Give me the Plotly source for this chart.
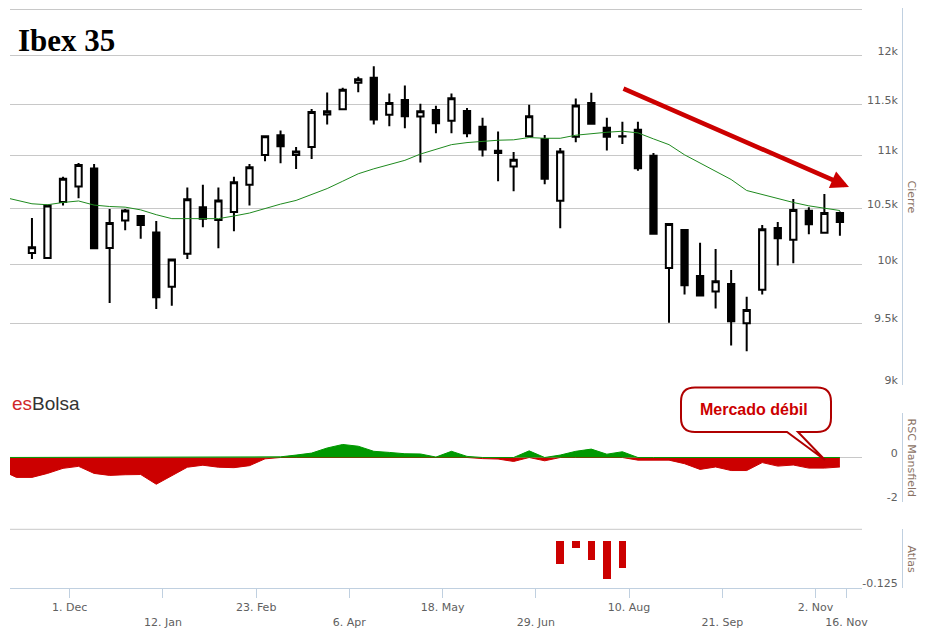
import numpy as np
import pandas as pd
import plotly.graph_objects as go

# ---------------- data ----------------
week_dates = pd.date_range("2014-11-14", periods=53, freq="7D")
pre_dates = pd.to_datetime(["2014-10-31", "2014-11-07"])

open_ = [10100, 10056, 10560, 10704, 10873, 10145, 10390, 10432, 10282, 9806,
         10094, 10513, 10396, 10468, 10720, 11002, 11195, 11002, 11081, 11399,
         11451, 11720, 11771, 11396, 11545, 11379, 11445, 11337, 11435, 11277,
         11044, 10892, 11185, 11159, 10572, 11179, 11514, 11268, 11185, 11248,
         10995, 9968, 10306, 9899, 9766, 9831, 9499, 9780, 10324, 10217,
         10479, 10280, 10459]
high = [10414, 10535, 10795, 10927, 10917, 10495, 10495, 10441, 10387, 10052,
        10695, 10720, 10695, 10795, 10917, 11190, 11241, 11081, 11455, 11620,
        11668, 11781, 11890, 11610, 11692, 11507, 11487, 11610, 11465, 11366,
        11231, 11031, 11497, 11198, 11071, 11559, 11618, 11366, 11327, 11327,
        11022, 10365, 10315, 10190, 10136, 9951, 9721, 10351, 10378, 10588,
        10513, 10635, 10473]
low = [10047, 10049, 10528, 10594, 10136, 9669, 10303, 10226, 9618, 9646,
       10047, 10330, 10142, 10294, 10528, 10942, 10923, 10870, 10964, 11300,
       11441, 11623, 11300, 11283, 11264, 10932, 11215, 11215, 11175, 10989,
       10754, 10660, 11175, 10726, 10321, 11126, 11300, 11047, 11110, 10852,
       10265, 9504, 9740, 9726, 9623, 9316, 9269, 9740, 9990, 10011,
       10267, 10273, 10253]
close = [10151, 10528, 10776, 10908, 10142, 10369, 10482, 10351, 9717, 10043,
         10585, 10408, 10575, 10744, 10885, 11185, 11087, 11037, 11425, 11431,
         11648, 11757, 11349, 11514, 11382, 11431, 11313, 11562, 11215, 11057,
         11022, 10958, 11382, 10776, 11037, 11490, 11307, 11179, 11182, 10876,
         10271, 10360, 9819, 9732, 9853, 9516, 9610, 10312, 10231, 10486,
         10357, 10459, 10378]

sma_pre = [10611, 10577]
sma = [10544, 10535, 10556, 10570, 10532, 10519, 10513, 10488, 10444, 10408,
       10408, 10408, 10408, 10432, 10459, 10500, 10541, 10575, 10629, 10685,
       10754, 10824, 10871, 10911, 10952, 11012, 11061, 11103, 11123, 11136,
       11146, 11150, 11172, 11165, 11165, 11195, 11212, 11224, 11234, 11218,
       11159, 11103, 11005, 10927, 10848, 10770, 10667, 10629, 10591, 10556,
       10525, 10504, 10482]

rsc_pre = [-0.57, -0.90]
rsc = [-0.90, -0.72, -0.49, -0.40, -0.72, -0.81, -0.78, -0.77, -1.21, -0.83,
       -0.44, -0.35, -0.44, -0.46, -0.37, -0.06, 0.03, 0.11, 0.20, 0.43,
       0.59, 0.51, 0.28, 0.23, 0.17, 0.16, 0.02, 0.28, 0.05, -0.05,
       -0.07, -0.18, 0.30, -0.15, 0.11, 0.28, 0.38, 0.15, 0.26, -0.12,
       -0.12, -0.12, -0.28, -0.54, -0.43, -0.59, -0.59, -0.23, -0.39, -0.34,
       -0.48, -0.48, -0.43]

atlas_dates = ["2015-07-10", "2015-07-17", "2015-07-24", "2015-07-31", "2015-08-07"]
atlas = [-0.062, -0.019, -0.051, -0.101, -0.073]

price_ticks = [9000, 9500, 10000, 10500, 11000, 11500, 12000, 12500]
price_labels = ["9k", "9.5k", "10k", "10.5k", "11k", "11.5k", "12k", ""]
rsc_ticks = [-2, 0, 2]
rsc_labels = ["-2", "0", ""]
atlas_ticks = [-0.125]
atlas_labels = ["-0.125"]

date_ticks = ["2014-12-01", "2015-01-12", "2015-02-23", "2015-04-06", "2015-05-18",
              "2015-06-29", "2015-08-10", "2015-09-21", "2015-11-02", "2015-11-16"]
date_labels = ["1. Dec", "12. Jan", "23. Feb", "6. Apr", "18. May",
               "29. Jun", "10. Aug", "21. Sep", "2. Nov", "16. Nov"]

# ---------------- layout helpers (page pixel -> paper) ----------------
OFF = 8                      # the page body margin offsets the figure
W, H = 925 - 2 * OFF, 637 - 2 * OFF
PLOT_L, PLOT_R, PLOT_T, PLOT_B = 10, 902, 8, 588   # page pixels of the plot area
ML, MR = PLOT_L - OFF, (OFF + W) - PLOT_R
MT, MB = PLOT_T - OFF, (OFF + H) - PLOT_B
PW, PH = PLOT_R - PLOT_L, PLOT_B - PLOT_T


def px(x):
    return (x - PLOT_L) / PW


def py(y):
    return (PLOT_B - y) / PH


FONT = "DejaVu Sans"
LBL = "#606060"
TITLE_C = "#8a7264"
GRID = "#C8C8C8"
AXL = "#C0D0E0"
RED = "#CC0000"

rsc_x = list(pre_dates) + list(week_dates)
rsc_all = np.array(rsc_pre + rsc)
sma_all = sma_pre + sma

fig = go.Figure()

fig.add_trace(go.Candlestick(
    x=week_dates, open=open_, high=high, low=low, close=close,
    increasing=dict(line=dict(color="black", width=2), fillcolor="white"),
    decreasing=dict(line=dict(color="black", width=2), fillcolor="black"),
    whiskerwidth=0, showlegend=False, hoverinfo="skip", xaxis="x", yaxis="y"))

fig.add_trace(go.Scatter(
    x=rsc_x, y=sma_all, mode="lines", line=dict(color="#1f8a1f", width=1),
    showlegend=False, hoverinfo="skip", xaxis="x", yaxis="y"))

fig.add_trace(go.Scatter(
    x=rsc_x, y=np.minimum(rsc_all, 0), mode="lines", fill="tozeroy",
    line=dict(color=RED, width=1), fillcolor=RED,
    showlegend=False, hoverinfo="skip", xaxis="x2", yaxis="y2"))
fig.add_trace(go.Scatter(
    x=rsc_x, y=np.maximum(rsc_all, 0), mode="lines", fill="tozeroy",
    line=dict(color="#009900", width=1), fillcolor="#009900",
    showlegend=False, hoverinfo="skip", xaxis="x2", yaxis="y2"))

fig.add_trace(go.Bar(
    x=pd.to_datetime(atlas_dates), y=atlas, marker=dict(color=RED, line=dict(width=0)),
    width=3.4 * 86400000, showlegend=False, hoverinfo="skip", xaxis="x3", yaxis="y3"))

xdom = [0, px(862)]
xrange_ = ["2014-11-04 02:40", "2015-11-22 22:48"]

# axis line sits at the right edge (paper x = 1); labels drawn to its left
common_y = dict(side="left", anchor="free", position=1, ticks="",
                ticklabelposition="outside top", ticklabelshift=3,
                ticklabelstandoff=2,
                showline=True, linecolor=AXL,
                linewidth=1, gridcolor=GRID, gridwidth=1, zeroline=False,
                tickfont=dict(family=FONT, size=11, color=LBL), fixedrange=True)

fig.update_layout(
    width=W, height=H,
    margin=dict(l=ML, r=MR, t=MT, b=MB, pad=0),
    paper_bgcolor="white", plot_bgcolor="white",
    showlegend=False, boxgap=0.42, bargap=0,
    xaxis=dict(domain=xdom, anchor="y", matches="x3", showticklabels=False,
               showgrid=False, zeroline=False, rangeslider=dict(visible=False)),
    xaxis2=dict(domain=xdom, anchor="y2", matches="x3", showticklabels=False,
                showgrid=False, zeroline=False),
    xaxis3=dict(domain=xdom, anchor="y3", range=xrange_, type="date",
                tickvals=date_ticks, ticktext=[("<br>" + t) if i % 2 else t
                                               for i, t in enumerate(date_labels)],
                ticks="outside", ticklen=9, tickcolor=AXL, showline=True,
                linecolor=AXL, linewidth=1, showgrid=False, zeroline=False,
                tickfont=dict(family=FONT, size=11, color=LBL), tickangle=0),
    yaxis=dict(domain=[py(385), 1], type="log",
               range=[np.log10(9000), np.log10(12511)],
               tickvals=price_ticks, ticktext=price_labels, **common_y),
    yaxis2=dict(domain=[py(501.7), py(413.3)], range=[-2, 2],
                tickvals=rsc_ticks, ticktext=rsc_labels, **common_y),
    yaxis3=dict(domain=[0, py(529.3)], range=[-0.125, 0.0305],
                tickvals=atlas_ticks, ticktext=atlas_labels, **common_y),
)

# top border line of the Atlas pane
fig.add_shape(type="line", xref="x3 domain", yref="y3 domain", x0=0, x1=1, y0=1, y1=1,
              line=dict(color=GRID, width=1), layer="below")


# callout box
def P(x, y):
    return f"{px(x):.5f},{py(y):.5f}"


l, r, t, b, rad = 681, 831, 387.5, 432, 14
path = (f"M{P(l + rad, t)} L{P(r - rad, t)} Q{P(r, t)} {P(r, t + rad)} "
        f"L{P(r, b - rad)} Q{P(r, b)} {P(r - rad, b)} L{P(798, b)} L{P(825, 460)} "
        f"L{P(787, b)} L{P(l + rad, b)} Q{P(l, b)} {P(l, b - rad)} "
        f"L{P(l, t + rad)} Q{P(l, t)} {P(l + rad, t)} Z")
fig.add_shape(type="path", xref="paper", yref="paper", path=path,
              fillcolor="white", line=dict(color="#B00000", width=2), layer="above")

ann = []
ann.append(dict(xref="paper", yref="paper", x=px(16), y=py(40), xanchor="left",
                yanchor="middle", showarrow=False, text="<b>Ibex 35</b>",
                font=dict(family="Liberation Serif", size=31, color="black")))
ann.append(dict(xref="paper", yref="paper", x=px(10), y=py(403.5), xanchor="left",
                yanchor="middle", showarrow=False,
                text="<span style='color:#d02828'>es</span>Bolsa",
                font=dict(family="Liberation Sans", size=19, color="#333333")))
ann.append(dict(xref="paper", yref="paper", x=px(754), y=py(410), xanchor="center",
                yanchor="middle", showarrow=False, text="<b>Mercado débil</b>",
                font=dict(family="Liberation Sans", size=16, color=RED)))
ann.append(dict(xref="paper", yref="paper", x=px(849), y=py(187), text="",
                showarrow=True, axref="pixel", ayref="pixel", ax=622 - 849, ay=88 - 187,
                arrowcolor=RED, arrowwidth=4.5, arrowhead=2, arrowsize=0.8, standoff=0))
for txt, yc in [("Cierre", 196.5), ("RSC Mansfield", 457.5), ("Atlas", 558.5)]:
    ann.append(dict(xref="paper", yref="paper", x=px(911), y=py(yc), textangle=90,
                    xanchor="center", yanchor="middle", showarrow=False, text=txt,
                    font=dict(family=FONT, size=11, color=TITLE_C)))
fig.update_layout(annotations=ann)

fig.write_html("out.html")
